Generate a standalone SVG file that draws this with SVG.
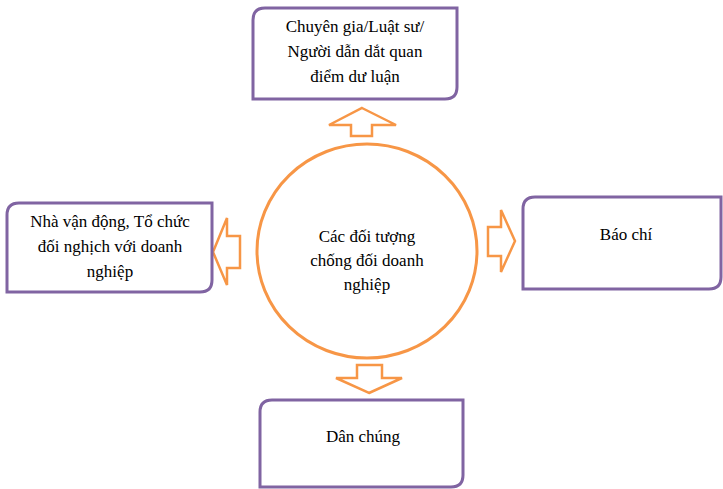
<svg xmlns="http://www.w3.org/2000/svg" width="723" height="489" viewBox="0 0 723 489">
  <style>
    .box { fill: #ffffff; stroke: #8064A2; stroke-width: 3; }
    .hub { fill: #ffffff; stroke: #F79646; stroke-width: 3; }
    .arrow { fill: #ffffff; stroke: #F79646; stroke-width: 2.5; stroke-linejoin: miter; }
    .label { font-family: 'Liberation Serif', 'Times New Roman', serif; font-size: 17px; fill: #000000; text-anchor: middle; }
  </style>
  <rect width="723" height="489" fill="#ffffff"/>

  <!-- block arrows pointing out from the hub -->
  <g id="connectors">
    <path class="arrow" d="M362,108 L396,125 L372,125 L372,136 L351,136 L351,125 L329,125 Z"/>
    <path class="arrow" d="M213,252 L227,218 L227,236 L240,236 L240,268 L227,268 L227,285 Z"/>
    <path class="arrow" d="M515,241 L501,210 L501,227 L488,227 L488,256 L501,256 L501,272 Z"/>
    <path class="arrow" d="M369,393 L402,378 L382,378 L382,365 L357,365 L357,378 L336,378 Z"/>
  </g>

  <g id="hub">
    <ellipse class="hub" cx="367" cy="251" rx="110" ry="107"/>
    <g class="label" font-family="Liberation Serif, serif">
      <text x="367" y="242">Các đối tượng</text>
      <text x="367" y="266">chống đối doanh</text>
      <text x="367" y="290">nghiệp</text>
    </g>
  </g>

  <!-- boxes: rounded top-left and bottom-right corners -->
  <g id="node-experts">
    <path class="box" d="M265,8 L457,8 L457,87 Q457,99 445,99 L253,99 L253,20 Q253,8 265,8 Z"/>
    <g class="label" font-family="Liberation Serif, serif">
      <text x="355" y="32">Chuyên gia/Luật sư/</text>
      <text x="355" y="57">Người dẫn dắt quan</text>
      <text x="355" y="82">điểm dư luận</text>
    </g>
  </g>

  <g id="node-activists">
    <path class="box" d="M19,203 L212,203 L212,280 Q212,292 200,292 L7,292 L7,215 Q7,203 19,203 Z"/>
    <g class="label" font-family="Liberation Serif, serif">
      <text x="110" y="227">Nhà vận động, Tổ chức</text>
      <text x="110" y="252">đối nghịch với doanh</text>
      <text x="110" y="277">nghiệp</text>
    </g>
  </g>

  <g id="node-press">
    <path class="box" d="M535,197 L721,197 L721,277 Q721,289 709,289 L523,289 L523,209 Q523,197 535,197 Z"/>
    <text class="label" x="626" y="240">Báo chí</text>
  </g>

  <g id="node-public">
    <path class="box" d="M272,400 L463,400 L463,475 Q463,487 451,487 L260,487 L260,412 Q260,400 272,400 Z"/>
    <text class="label" x="363" y="442">Dân chúng</text>
  </g>
</svg>
